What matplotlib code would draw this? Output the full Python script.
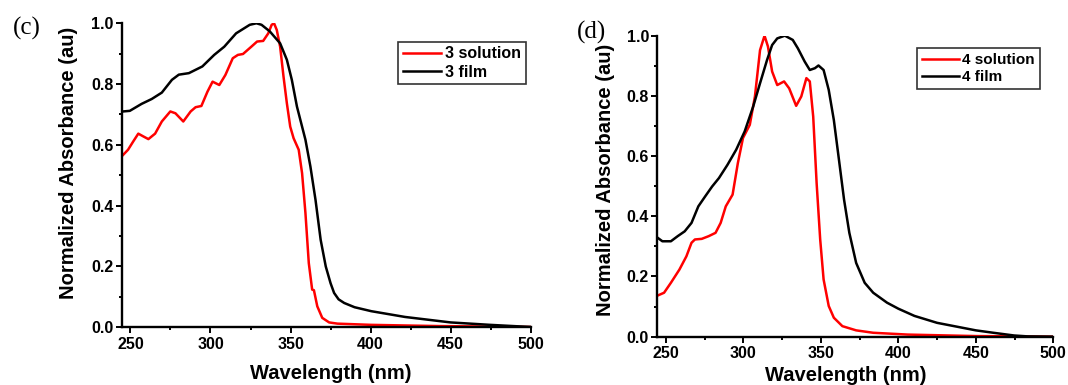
import matplotlib
matplotlib.use("Agg")
import matplotlib.pyplot as plt
from matplotlib.ticker import MultipleLocator

# panel (c): compound 3
wl_3_solution = [245.4, 248.5, 251.7, 254.9, 258.0, 261.2, 265.4, 269.6, 274.9, 278.1,
                 283.0, 287.6, 290.7, 294.3, 298.1, 301.3, 305.5, 309.3, 313.9, 317.1,
                 320.3, 325.5, 329.1, 332.9, 336.1, 338.2, 339.7, 341.4, 343.5, 345.6,
                 347.7, 349.8, 351.9, 355.1, 357.2, 359.3, 361.4, 363.5, 364.6, 366.7,
                 369.8, 374.1, 379.3, 400.4, 442.6, 500.0]
abs_3_solution = [0.567, 0.584, 0.611, 0.637, 0.628, 0.619, 0.637, 0.677, 0.710, 0.704,
                  0.677, 0.710, 0.724, 0.728, 0.775, 0.808, 0.797, 0.830, 0.885, 0.896,
                  0.899, 0.923, 0.940, 0.942, 0.967, 0.995, 1.000, 0.978, 0.923, 0.825,
                  0.737, 0.660, 0.622, 0.584, 0.507, 0.376, 0.211, 0.124, 0.122, 0.069,
                  0.031, 0.016, 0.012, 0.008, 0.004, 0.001]

wl_3_film = [245.4, 249.6, 257.0, 263.3, 269.6, 275.9, 280.2, 286.5, 294.9, 302.3,
             308.6, 316.0, 324.5, 328.7, 331.9, 337.1, 343.5, 347.7, 350.8, 354.0,
             359.3, 362.4, 365.6, 368.8, 372.0, 375.0, 377.2, 380.0, 383.5, 390.0,
             400.4, 421.5, 450.0, 474.7, 500.0]
abs_3_film = [0.710, 0.712, 0.735, 0.751, 0.772, 0.814, 0.831, 0.836, 0.858, 0.896,
              0.923, 0.967, 0.995, 1.000, 0.995, 0.973, 0.934, 0.880, 0.814, 0.726,
              0.617, 0.529, 0.419, 0.288, 0.200, 0.145, 0.113, 0.092, 0.080, 0.066,
              0.053, 0.034, 0.016, 0.008, 0.001]

# panel (d): compound 4
wl_4_solution = [244.9, 248.9, 253.3, 258.8, 263.3, 266.6, 268.8, 273.2, 277.7, 282.1,
                 285.4, 288.7, 293.1, 296.5, 299.8, 304.2, 307.5, 310.8, 313.7, 315.9,
                 318.6, 321.9, 326.3, 329.6, 334.1, 337.4, 340.7, 342.9, 345.1, 347.3,
                 349.6, 351.8, 355.1, 358.4, 363.9, 372.8, 383.8, 406.0, 450.2, 500.0]
abs_4_solution = [0.137, 0.146, 0.179, 0.223, 0.267, 0.312, 0.323, 0.325, 0.334, 0.345,
                  0.378, 0.433, 0.472, 0.577, 0.660, 0.704, 0.798, 0.952, 1.000, 0.964,
                  0.881, 0.836, 0.848, 0.825, 0.767, 0.798, 0.859, 0.848, 0.731, 0.510,
                  0.323, 0.190, 0.102, 0.063, 0.035, 0.021, 0.013, 0.007, 0.002, 0.0]

wl_4_film = [244.9, 247.8, 253.3, 257.7, 262.2, 266.6, 271.0, 275.4, 279.9, 284.3,
             289.8, 295.4, 300.9, 306.4, 310.8, 315.3, 318.6, 321.9, 326.8, 331.9,
             335.2, 339.6, 342.9, 346.2, 348.5, 351.8, 355.1, 358.4, 361.7, 365.0,
             368.4, 372.8, 378.3, 383.8, 392.7, 400.0, 410.4, 425.0, 450.0, 461.3,
             474.6, 483.4, 500.0]
abs_4_film = [0.328, 0.317, 0.317, 0.334, 0.350, 0.378, 0.433, 0.466, 0.499, 0.527,
              0.571, 0.621, 0.682, 0.765, 0.842, 0.919, 0.969, 0.991, 1.000, 0.986,
              0.958, 0.914, 0.886, 0.892, 0.901, 0.886, 0.820, 0.720, 0.588, 0.455,
              0.345, 0.245, 0.179, 0.146, 0.113, 0.093, 0.069, 0.046, 0.021, 0.013,
              0.004, 0.001, 0.0]

x_ticks = [250, 300, 350, 400, 450, 500]
y_ticks = [0.0, 0.2, 0.4, 0.6, 0.8, 1.0]

BOLD = {"family": "Liberation Sans", "weight": "bold"}


def setup_axes(ax, ylab_y, xlab_x, xlab_y):
    ax.set_xlim(244.5, 500)
    ax.set_ylim(0, 1.0)
    ax.set_xticks(x_ticks)
    ax.set_yticks(y_ticks)
    ax.set_xticklabels([str(t) for t in x_ticks], fontdict=BOLD, fontsize=11.5)
    ax.set_yticklabels([f"{t:.1f}" for t in y_ticks], fontdict=BOLD, fontsize=11.5)
    ax.xaxis.set_minor_locator(MultipleLocator(25))
    ax.yaxis.set_minor_locator(MultipleLocator(0.1))
    ax.tick_params(which="major", direction="out", length=4, width=1.4, pad=2)
    ax.tick_params(which="minor", direction="out", length=2.5, width=1.4)
    ax.tick_params(axis="x", which="major", pad=3)
    ax.spines["top"].set_visible(False)
    ax.spines["right"].set_visible(False)
    ax.spines["left"].set_linewidth(1.7)
    ax.spines["bottom"].set_linewidth(1.7)
    ax.set_xlabel("Wavelength (nm)", fontdict=BOLD, fontsize=14.5)
    ax.set_ylabel("Normalized Absorbance (au)", fontdict=BOLD, fontsize=14.5)
    ax.yaxis.set_label_coords(-0.107, ylab_y)
    ax.xaxis.set_label_coords(xlab_x, xlab_y)


def add_legend(ax, anchor, size):
    leg = ax.legend(loc="upper left", bbox_to_anchor=anchor,
                    bbox_transform=ax.figure.transFigure,
                    prop={"family": "Liberation Sans", "weight": "bold", "size": size},
                    handlelength=2.4, handletextpad=0.25, labelspacing=0.2,
                    borderpad=0.3, borderaxespad=0, fancybox=False, framealpha=1)
    leg.get_frame().set_edgecolor("#333333")
    leg.get_frame().set_linewidth(1.2)


fig = plt.figure(figsize=(10.68, 3.85), dpi=100)

ax1 = fig.add_axes([0.1139, 0.1499, 0.4969 - 0.1139, 0.9395 - 0.1499])
ax1.plot(wl_3_solution, abs_3_solution, color="red", lw=1.8, label="3 solution")
ax1.plot(wl_3_film, abs_3_film, color="black", lw=1.8, label="3 film")
setup_axes(ax1, 0.542, 0.512, -0.121)
add_legend(ax1, (0.3727, 0.8917), 11.5)
fig.text(27 / 1068, 1 - 28 / 385, "(c)", family="Liberation Serif", fontsize=18,
         ha="center", va="center")

ax2 = fig.add_axes([0.6154, 0.1255, 0.9863 - 0.6154, 0.9073 - 0.1255])
ax2.plot(wl_4_solution, abs_4_solution, color="red", lw=1.8, label="4 solution")
ax2.plot(wl_4_film, abs_4_film, color="black", lw=1.8, label="4 film")
setup_axes(ax2, 0.52, 0.476, -0.097)
add_legend(ax2, (0.8589, 0.8745), 11)
fig.text(591 / 1068, 1 - 32 / 385, "(d)", family="Liberation Serif", fontsize=18,
         ha="center", va="center")

fig.savefig("out.png", dpi=100)
